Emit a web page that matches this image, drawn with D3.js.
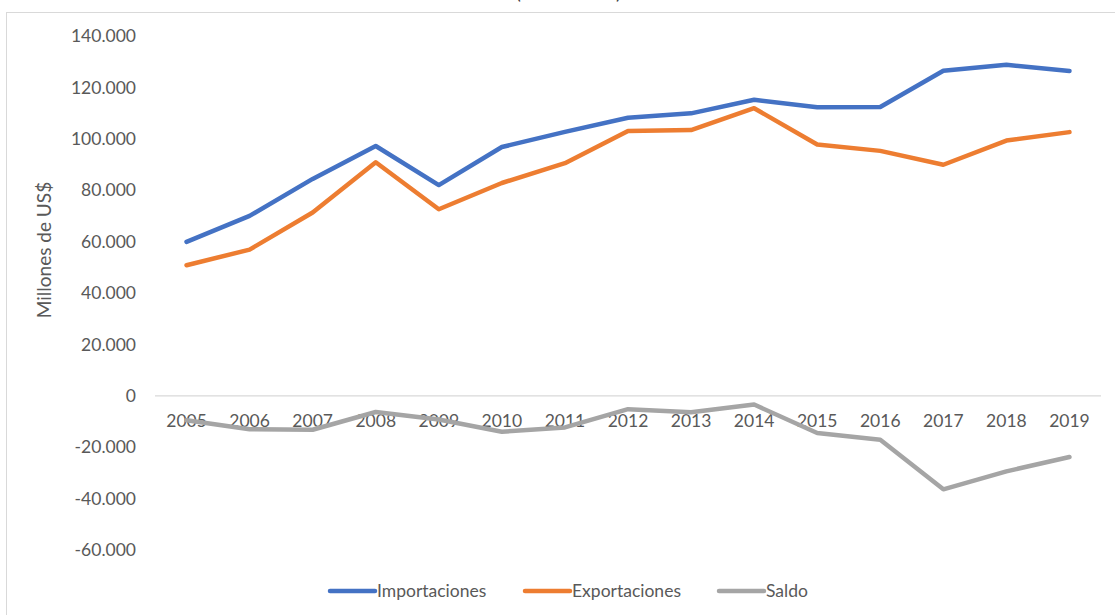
<!DOCTYPE html>
<html>
<head>
<meta charset="utf-8">
<script src="https://cdn.jsdelivr.net/npm/d3@7"></script>
<style>
  body { margin: 0; background: #fff; }
  text { font-family: Lato, "Open Sans", sans-serif; fill: #595959; }
</style>
</head>
<body>
<div id="chart"></div>
<script>
//line chart of imports, exports and trade balance 2005-2019

//chart data
var years = ["2005","2006","2007","2008","2009","2010","2011","2012","2013","2014","2015","2016","2017","2018","2019"];
var importaciones = [59900, 70000, 84400, 97200, 82000, 96800, 102700, 108200, 109900, 115200, 112300, 112400, 126500, 128800, 126400];
var exportaciones = [50800, 56900, 71300, 90900, 72600, 82800, 90500, 103000, 103400, 111900, 97800, 95300, 89900, 99300, 102600];
var saldo = [-9500, -13000, -13200, -6300, -9200, -14000, -12300, -5200, -6400, -3400, -14500, -17100, -36400, -29400, -23800];
var seriesNames = ["Importaciones", "Exportaciones", "Saldo"];
var seriesColors = ["#4472C4", "#ED7D31", "#A5A5A5"];
var yTicks = [-60000, -40000, -20000, 0, 20000, 40000, 60000, 80000, 100000, 120000, 140000];

(function(){

  var width = 1115,
      height = 615;

  var svg = d3.select("#chart")
    .append("svg")
    .attr("width", width)
    .attr("height", height);

  //chart frame (runs past the picture on the right and bottom)
  svg.append("rect")
    .attr("x", 6.5)
    .attr("y", 12.5)
    .attr("width", 1130)
    .attr("height", 640)
    .attr("fill", "none")
    .attr("stroke", "#d9d9d9");

  //title, cut off at the top: only the bottom of the brackets shows
  svg.append("text")
    .attr("x", 621)
    .attr("y", -0.6)
    .attr("text-anchor", "end")
    .style("font-size", "19px")
    .style("fill", "#404040")
    .text("Balanza comercial (2005-2019)");

  //scales
  var x = d3.scaleBand()
    .domain(years)
    .range([155, 1101]);

  var y = d3.scaleLinear()
    .domain([-60000, 140000])
    .range([550, 36]);

  //number format with dot as thousands separator
  var locale = d3.formatLocale({decimal: ",", thousands: ".", grouping: [3], currency: ["", "$"], minus: "-"});
  var fmt = locale.format(",d");

  //y axis labels
  var yAxis = d3.axisLeft(y)
    .tickValues(yTicks)
    .tickFormat(fmt)
    .tickSize(0)
    .tickPadding(0);

  svg.append("g")
    .attr("transform", "translate(136,0)")
    .call(yAxis)
    .call(function(g){ g.select(".domain").remove(); })
    .selectAll("text")
    .style("font-size", "17.5px")
    .style("fill", "#595959")
    .style("font-family", "Lato, 'Open Sans', sans-serif");

  //zero line
  svg.append("line")
    .attr("x1", 155)
    .attr("x2", 1101)
    .attr("y1", y(0))
    .attr("y2", y(0))
    .attr("stroke", "#d9d9d9")
    .attr("stroke-width", 1.3);

  //x axis labels under the zero line
  var xAxis = d3.axisBottom(x)
    .tickSize(0)
    .tickPadding(19);

  svg.append("g")
    .attr("transform", "translate(0," + y(0) + ")")
    .call(xAxis)
    .call(function(g){ g.select(".domain").remove(); })
    .selectAll("text")
    .style("font-size", "17.5px")
    .style("fill", "#595959")
    .style("font-family", "Lato, 'Open Sans', sans-serif");

  //axis title
  svg.append("text")
    .attr("transform", "translate(51,250) rotate(-90)")
    .attr("text-anchor", "middle")
    .style("font-size", "19px")
    .text("Millones de US$");

  //lines
  var line = d3.line()
    .x(function(d, i){ return x(years[i]) + x.bandwidth() / 2; })
    .y(function(d){ return y(d); });

  var allSeries = [importaciones, exportaciones, saldo];

  svg.selectAll(".serie")
    .data(allSeries)
    .enter()
    .append("path")
    .attr("class", "serie")
    .attr("d", line)
    .attr("fill", "none")
    .attr("stroke", function(d, i){ return seriesColors[i]; })
    .attr("stroke-width", 4.5)
    .attr("stroke-linecap", "round")
    .attr("stroke-linejoin", "round");

  //legend
  var legendX = [330, 525, 719];
  var legend = svg.selectAll(".legend")
    .data(seriesNames)
    .enter()
    .append("g")
    .attr("class", "legend")
    .attr("transform", function(d, i){ return "translate(" + legendX[i] + ",591)"; });

  legend.append("line")
    .attr("x1", 0)
    .attr("x2", 45)
    .attr("stroke", function(d, i){ return seriesColors[i]; })
    .attr("stroke-width", 4.5)
    .attr("stroke-linecap", "round");

  legend.append("text")
    .attr("x", 47)
    .attr("dy", "0.35em")
    .style("font-size", "17.5px")
    .text(function(d){ return d; });

})();
</script>
</body>
</html>
